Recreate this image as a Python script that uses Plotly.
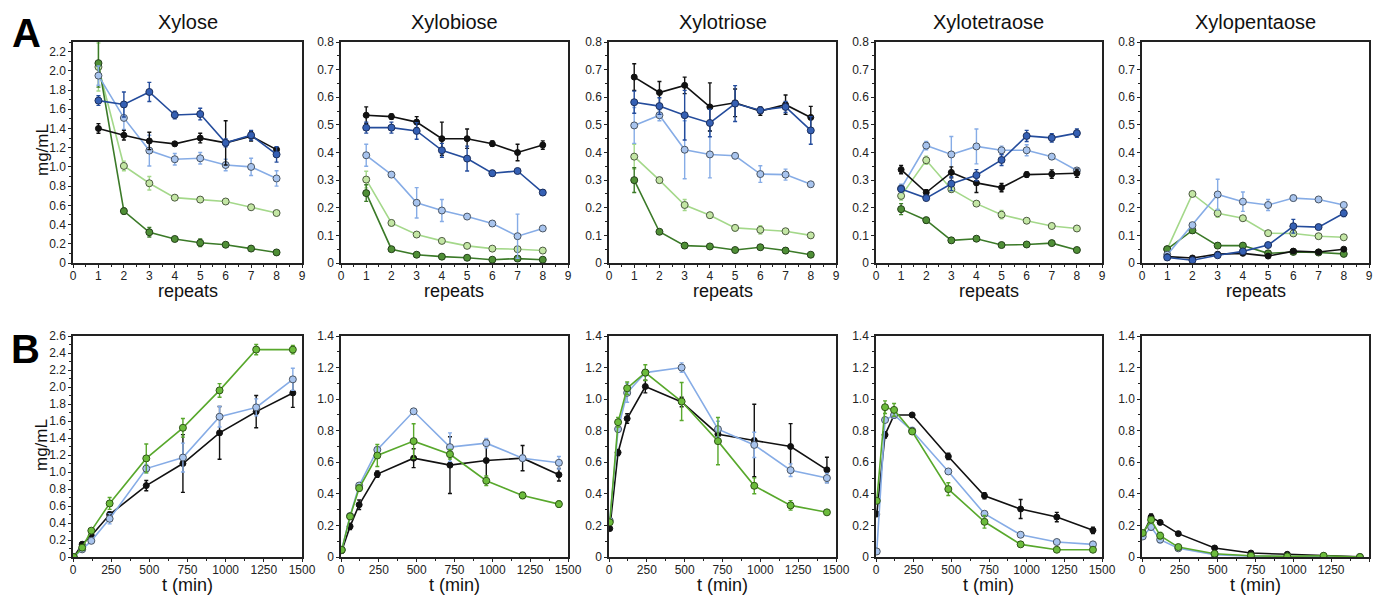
import plotly.graph_objects as go

W, H = 1382, 598
FONT = "Liberation Sans, Arial, sans-serif"

# ---------------- data ----------------
repeats = [1, 2, 3, 4, 5, 6, 7, 8]
times = [5, 60, 120, 240, 480, 720, 960, 1200, 1440]
titles = ["Xylose", "Xylobiose", "Xylotriose", "Xylotetraose", "Xylopentaose"]

# Row A (repeats)
xylose_black = [1.40, 1.33, 1.27, 1.24, 1.30, 1.25, 1.32, 1.18]
xylose_black_err = [0.05, 0.05, 0.09, 0.02, 0.05, 0.23, 0.05, 0.02]
xylose_dblue = [1.69, 1.65, 1.78, 1.54, 1.55, 1.25, 1.33, 1.13]
xylose_dblue_err = [0.05, 0.13, 0.10, 0.04, 0.06, 0.04, 0.05, 0.08]
xylose_lblue = [1.95, 1.51, 1.17, 1.08, 1.09, 1.02, 1.00, 0.88]
xylose_lblue_err = [0.10, 0.12, 0.16, 0.06, 0.06, 0.06, 0.09, 0.08]
xylose_lgreen = [2.04, 1.01, 0.83, 0.68, 0.66, 0.64, 0.58, 0.52]
xylose_lgreen_err = [0.25, 0.05, 0.07, 0.02, 0.02, 0.02, 0.02, 0.02]
xylose_dgreen = [2.08, 0.54, 0.32, 0.25, 0.21, 0.19, 0.15, 0.11]
xylose_dgreen_err = [0.25, 0.03, 0.05, 0.02, 0.04, 0.02, 0.02, 0.02]

x2_black = [0.535, 0.530, 0.510, 0.450, 0.450, 0.432, 0.400, 0.427]
x2_black_err = [0.03, 0.01, 0.02, 0.06, 0.035, 0.01, 0.03, 0.015]
x2_dblue = [0.490, 0.490, 0.478, 0.408, 0.378, 0.325, 0.333, 0.255]
x2_dblue_err = [0.02, 0.02, 0.03, 0.025, 0.045, 0.01, 0.005, 0.01]
x2_lblue = [0.390, 0.320, 0.218, 0.190, 0.168, 0.143, 0.097, 0.125]
x2_lblue_err = [0.04, 0.005, 0.055, 0.04, 0.005, 0.01, 0.08, 0.005]
x2_lgreen = [0.302, 0.145, 0.103, 0.080, 0.062, 0.052, 0.050, 0.045]
x2_lgreen_err = [0.03, 0.01, 0.005, 0.005, 0.005, 0.005, 0.005, 0.005]
x2_dgreen = [0.253, 0.050, 0.030, 0.023, 0.019, 0.012, 0.016, 0.012]
x2_dgreen_err = [0.03, 0.005, 0.005, 0.005, 0.005, 0.005, 0.005, 0.005]

x3_black = [0.673, 0.617, 0.643, 0.565, 0.580, 0.550, 0.573, 0.527]
x3_black_err = [0.048, 0.04, 0.03, 0.087, 0.05, 0.015, 0.035, 0.04]
x3_dblue = [0.582, 0.568, 0.535, 0.507, 0.577, 0.553, 0.565, 0.480]
x3_dblue_err = [0.04, 0.03, 0.09, 0.05, 0.065, 0.01, 0.02, 0.05]
x3_lblue = [0.498, 0.535, 0.410, 0.393, 0.388, 0.322, 0.320, 0.285]
x3_lblue_err = [0.065, 0.02, 0.105, 0.085, 0.01, 0.03, 0.02, 0.005]
x3_lgreen = [0.385, 0.300, 0.210, 0.173, 0.127, 0.120, 0.115, 0.100]
x3_lgreen_err = [0.045, 0.01, 0.02, 0.01, 0.01, 0.015, 0.005, 0.005]
x3_dgreen = [0.300, 0.113, 0.063, 0.060, 0.047, 0.057, 0.045, 0.030]
x3_dgreen_err = [0.045, 0.005, 0.01, 0.005, 0.005, 0.005, 0.01, 0.005]

x4_black = [0.338, 0.255, 0.328, 0.290, 0.273, 0.320, 0.322, 0.325]
x4_black_err = [0.015, 0.01, 0.02, 0.035, 0.015, 0.01, 0.015, 0.015]
x4_dblue = [0.268, 0.235, 0.287, 0.318, 0.373, 0.460, 0.453, 0.470]
x4_dblue_err = [0.01, 0.005, 0.025, 0.02, 0.02, 0.02, 0.015, 0.015]
x4_lblue = [0.270, 0.425, 0.393, 0.422, 0.408, 0.408, 0.385, 0.335]
x4_lblue_err = [0.015, 0.015, 0.065, 0.063, 0.015, 0.02, 0.005, 0.005]
x4_lgreen = [0.243, 0.372, 0.267, 0.215, 0.175, 0.153, 0.134, 0.125]
x4_lgreen_err = [0.015, 0.015, 0.01, 0.005, 0.015, 0.005, 0.008, 0.005]
x4_dgreen = [0.195, 0.155, 0.082, 0.088, 0.065, 0.067, 0.072, 0.047]
x4_dgreen_err = [0.02, 0.01, 0.008, 0.005, 0.005, 0.005, 0.005, 0.005]

x5_black = [0.023, 0.018, 0.032, 0.035, 0.025, 0.043, 0.040, 0.050]
x5_black_err = [0.005, 0.005, 0.005, 0.005, 0.005, 0.005, 0.005, 0.005]
x5_dblue = [0.020, 0.010, 0.028, 0.042, 0.065, 0.133, 0.130, 0.180]
x5_dblue_err = [0.005, 0.005, 0.005, 0.005, 0.008, 0.025, 0.008, 0.012]
x5_lblue = [0.030, 0.137, 0.248, 0.222, 0.210, 0.235, 0.230, 0.210]
x5_lblue_err = [0.005, 0.005, 0.055, 0.035, 0.02, 0.01, 0.005, 0.005]
x5_lgreen = [0.050, 0.250, 0.180, 0.162, 0.108, 0.107, 0.097, 0.093]
x5_lgreen_err = [0.005, 0.005, 0.015, 0.005, 0.005, 0.005, 0.005, 0.005]
x5_dgreen = [0.050, 0.118, 0.063, 0.063, 0.035, 0.040, 0.038, 0.033]
x5_dgreen_err = [0.005, 0.008, 0.005, 0.005, 0.005, 0.005, 0.005, 0.005]

# Row B (time course)
b1_green = [0.00, 0.11, 0.31, 0.63, 1.16, 1.52, 1.96, 2.44, 2.44]
b1_green_err = [0.01, 0.02, 0.02, 0.07, 0.17, 0.11, 0.08, 0.06, 0.05]
b1_lblue = [0.00, 0.09, 0.19, 0.45, 1.04, 1.17, 1.65, 1.76, 2.09]
b1_lblue_err = [0.01, 0.02, 0.03, 0.06, 0.05, 0.17, 0.12, 0.10, 0.13]
b1_black = [0.00, 0.15, 0.25, 0.50, 0.84, 1.10, 1.46, 1.71, 1.93]
b1_black_err = [0.01, 0.02, 0.03, 0.03, 0.06, 0.34, 0.31, 0.19, 0.17]

b2_green = [0.045, 0.257, 0.436, 0.643, 0.734, 0.651, 0.483, 0.390, 0.335]
b2_green_err = [0.01, 0.01, 0.02, 0.07, 0.11, 0.03, 0.03, 0.02, 0.02]
b2_lblue = [0.046, 0.260, 0.453, 0.679, 0.923, 0.696, 0.721, 0.626, 0.597]
b2_lblue_err = [0.01, 0.01, 0.01, 0.02, 0.01, 0.09, 0.03, 0.02, 0.04]
b2_black = [0.040, 0.194, 0.331, 0.525, 0.626, 0.582, 0.611, 0.626, 0.521]
b2_black_err = [0.01, 0.02, 0.03, 0.02, 0.06, 0.18, 0.13, 0.08, 0.04]

b3_green = [0.220, 0.854, 1.069, 1.168, 0.985, 0.734, 0.451, 0.327, 0.283]
b3_green_err = [0.01, 0.03, 0.04, 0.05, 0.12, 0.15, 0.05, 0.03, 0.01]
b3_lblue = [0.230, 0.810, 1.040, 1.168, 1.200, 0.810, 0.710, 0.550, 0.500]
b3_lblue_err = [0.01, 0.02, 0.06, 0.02, 0.03, 0.05, 0.08, 0.04, 0.03]
b3_black = [0.180, 0.662, 0.877, 1.080, 0.982, 0.778, 0.738, 0.700, 0.552]
b3_black_err = [0.01, 0.02, 0.03, 0.04, 0.03, 0.04, 0.23, 0.145, 0.08]

b4_green = [0.356, 0.949, 0.932, 0.795, 0.430, 0.223, 0.080, 0.046, 0.046]
b4_green_err = [0.01, 0.04, 0.04, 0.01, 0.04, 0.04, 0.01, 0.01, 0.01]
b4_lblue = [0.035, 0.868, 0.900, 0.800, 0.542, 0.274, 0.141, 0.095, 0.080]
b4_lblue_err = [0.005, 0.01, 0.02, 0.02, 0.01, 0.01, 0.01, 0.01, 0.01]
b4_black = [0.272, 0.774, 0.900, 0.900, 0.637, 0.388, 0.304, 0.253, 0.169]
b4_black_err = [0.01, 0.02, 0.02, 0.01, 0.02, 0.02, 0.06, 0.03, 0.02]

b5_green = [0.152, 0.236, 0.135, 0.063, 0.021, 0.008, 0.004, 0.008, 0.000]
b5_green_err = [0.01, 0.02, 0.02, 0.01, 0.005, 0.005, 0.005, 0.005, 0.005]
b5_lblue = [0.130, 0.190, 0.110, 0.055, 0.015, 0.005, 0.003, 0.003, 0.000]
b5_lblue_err = [0.01, 0.02, 0.02, 0.01, 0.005, 0.005, 0.005, 0.005, 0.005]
b5_black = [0.141, 0.253, 0.219, 0.148, 0.057, 0.025, 0.017, 0.008, 0.002]
b5_black_err = [0.01, 0.02, 0.01, 0.01, 0.01, 0.005, 0.005, 0.005, 0.005]

# ---------------- styles ----------------
STY = {
    "black": dict(line="#111111", fill="#111111", edge="#111111", size=6),
    "dblue": dict(line="#244c9c", fill="#3560b4", edge="#1c2f5c", size=7),
    "lblue": dict(line="#86ace6", fill="#a8c4ee", edge="#4a5563", size=7),
    "lgreen": dict(line="#a4d88a", fill="#c3e6a4", edge="#4c5a40", size=7),
    "dgreen": dict(line="#3b7a28", fill="#4f8f36", edge="#24401a", size=7),
    "green": dict(line="#58a82c", fill="#6cbc3c", edge="#2f5418", size=7),
}

fig = go.Figure()

# panel geometry (pixels)
xs_px = [(73, 302), (341, 568), (609, 836), (876, 1102), (1142, 1369)]
rowA_px = (42, 263)
rowB_px = (336, 557)


def px_x(a, b):
    return [a / W, b / W]


def px_y(top, bot):
    return [1 - bot / H, 1 - top / H]


def add(idx, x, y, err, key):
    s = STY[key]
    fig.add_trace(go.Scatter(
        x=x, y=y, mode="lines+markers",
        xaxis="x" + (str(idx) if idx > 1 else ""),
        yaxis="y" + (str(idx) if idx > 1 else ""),
        line=dict(color=s["line"], width=1.6),
        marker=dict(symbol="circle", size=s["size"], color=s["fill"],
                    line=dict(color=s["edge"], width=1)),
        error_y=dict(type="data", array=err, visible=True, color=s["line"],
                     thickness=1.4, width=2),
        showlegend=False, hoverinfo="x+y",
    ))


rowA = [
    [(xylose_lgreen, xylose_lgreen_err, "lgreen"), (xylose_dgreen, xylose_dgreen_err, "dgreen"),
     (xylose_lblue, xylose_lblue_err, "lblue"), (xylose_black, xylose_black_err, "black"),
     (xylose_dblue, xylose_dblue_err, "dblue")],
    [(x2_lgreen, x2_lgreen_err, "lgreen"), (x2_dgreen, x2_dgreen_err, "dgreen"),
     (x2_lblue, x2_lblue_err, "lblue"), (x2_black, x2_black_err, "black"),
     (x2_dblue, x2_dblue_err, "dblue")],
    [(x3_lgreen, x3_lgreen_err, "lgreen"), (x3_dgreen, x3_dgreen_err, "dgreen"),
     (x3_lblue, x3_lblue_err, "lblue"), (x3_black, x3_black_err, "black"),
     (x3_dblue, x3_dblue_err, "dblue")],
    [(x4_lgreen, x4_lgreen_err, "lgreen"), (x4_dgreen, x4_dgreen_err, "dgreen"),
     (x4_lblue, x4_lblue_err, "lblue"), (x4_black, x4_black_err, "black"),
     (x4_dblue, x4_dblue_err, "dblue")],
    [(x5_lgreen, x5_lgreen_err, "lgreen"), (x5_dgreen, x5_dgreen_err, "dgreen"),
     (x5_lblue, x5_lblue_err, "lblue"), (x5_black, x5_black_err, "black"),
     (x5_dblue, x5_dblue_err, "dblue")],
]
rowB = [
    [(b1_black, b1_black_err, "black"), (b1_lblue, b1_lblue_err, "lblue"), (b1_green, b1_green_err, "green")],
    [(b2_black, b2_black_err, "black"), (b2_lblue, b2_lblue_err, "lblue"), (b2_green, b2_green_err, "green")],
    [(b3_black, b3_black_err, "black"), (b3_lblue, b3_lblue_err, "lblue"), (b3_green, b3_green_err, "green")],
    [(b4_black, b4_black_err, "black"), (b4_lblue, b4_lblue_err, "lblue"), (b4_green, b4_green_err, "green")],
    [(b5_black, b5_black_err, "black"), (b5_lblue, b5_lblue_err, "lblue"), (b5_green, b5_green_err, "green")],
]

for i in range(5):
    for y, e, k in rowA[i]:
        add(i + 1, repeats, y, e, k)
for i in range(5):
    for y, e, k in rowB[i]:
        add(i + 6, times, y, e, k)

axis_common = dict(showline=True, linecolor="#222222", linewidth=1.5, mirror=True,
                   showgrid=False, zeroline=False, ticks="outside", ticklen=3,
                   tickcolor="#222222", tickwidth=1, automargin=False,
                   tickfont=dict(family=FONT, size=12, color="#222222"))
MINOR = dict(ticks="outside", ticklen=2, tickcolor="#222222")


def ylabels(vals):
    return ["0" if v == 0 else f"{v:.1f}" for v in vals]


layout = {}
for i in range(10):
    n = i + 1
    suf = str(n) if n > 1 else ""
    col = i % 5
    rowa = i < 5
    xa = dict(axis_common)
    ya = dict(axis_common)
    xa["domain"] = px_x(*xs_px[col])
    ya["domain"] = px_y(*(rowA_px if rowa else rowB_px))
    xa["anchor"] = "y" + suf
    ya["anchor"] = "x" + suf
    xa["ticklabelstandoff"] = -2
    if rowa:
        xa.update(range=[0, 9], tickvals=list(range(10)), ticktext=[str(v) for v in range(10)],
                  minor=dict(dtick=0.5, **MINOR))
        if col == 0:
            yv = [round(0.2 * k, 1) for k in range(12)]
            ya.update(range=[0, 2.3], tickvals=yv, ticktext=ylabels(yv),
                      minor=dict(dtick=0.1, **MINOR))
        else:
            yv = [round(0.1 * k, 1) for k in range(9)]
            ya.update(range=[0, 0.8], tickvals=yv, ticktext=ylabels(yv),
                      minor=dict(dtick=0.05, **MINOR))
    else:
        xv = [0, 250, 500, 750, 1000, 1250, 1500]
        xa.update(range=[0, 1500], tickvals=xv, ticktext=[str(v) for v in xv],
                  minor=dict(dtick=125, **MINOR))
        if col == 0:
            yv = [round(0.2 * k, 1) for k in range(14)]
            ya.update(range=[0, 2.6], tickvals=yv, ticktext=ylabels(yv),
                      minor=dict(dtick=0.1, **MINOR))
        else:
            yv = [round(0.2 * k, 1) for k in range(8)]
            ya.update(range=[0, 1.4], tickvals=yv, ticktext=ylabels(yv),
                      minor=dict(dtick=0.1, **MINOR))
    layout["xaxis" + suf] = xa
    layout["yaxis" + suf] = ya

annotations = []
for col in range(5):
    a, b = xs_px[col]
    cx = (a + b) / 2 / W
    annotations.append(dict(text=titles[col], x=cx, y=1 - 22 / H, xref="paper", yref="paper",
                            showarrow=False, font=dict(family=FONT, size=20, color="#111111"),
                            xanchor="center", yanchor="middle"))
    annotations.append(dict(text="repeats", x=cx, y=1 - 291 / H, xref="paper", yref="paper",
                            showarrow=False, font=dict(family=FONT, size=18, color="#111111"),
                            xanchor="center", yanchor="middle"))
    annotations.append(dict(text="t (min)", x=cx, y=1 - 585 / H, xref="paper", yref="paper",
                            showarrow=False, font=dict(family=FONT, size=18, color="#111111"),
                            xanchor="center", yanchor="middle"))
for ycen in (150, 445):
    annotations.append(dict(text="mg/mL", x=42 / W, y=1 - ycen / H, xref="paper", yref="paper",
                            showarrow=False, textangle=-90,
                            font=dict(family=FONT, size=17, color="#111111"),
                            xanchor="center", yanchor="middle"))
annotations.append(dict(text="<b>A</b>", x=26 / W, y=1 - 33 / H, xref="paper", yref="paper",
                        showarrow=False, font=dict(family=FONT, size=40, color="#000000"),
                        xanchor="center", yanchor="middle"))
annotations.append(dict(text="<b>B</b>", x=25 / W, y=1 - 349 / H, xref="paper", yref="paper",
                        showarrow=False, font=dict(family=FONT, size=40, color="#000000"),
                        xanchor="center", yanchor="middle"))

fig.update_layout(template="none")
fig.update_layout(**layout)
fig.update_layout(
    width=W, height=H, margin=dict(l=0, r=0, t=0, b=0, pad=0),
    paper_bgcolor="white", plot_bgcolor="white",
    annotations=annotations, showlegend=False,
    font=dict(family=FONT),
)

fig.write_html("out.html", config={"displayModeBar": False},
               post_script="document.body.style.margin='0';document.body.style.overflow='hidden';")
